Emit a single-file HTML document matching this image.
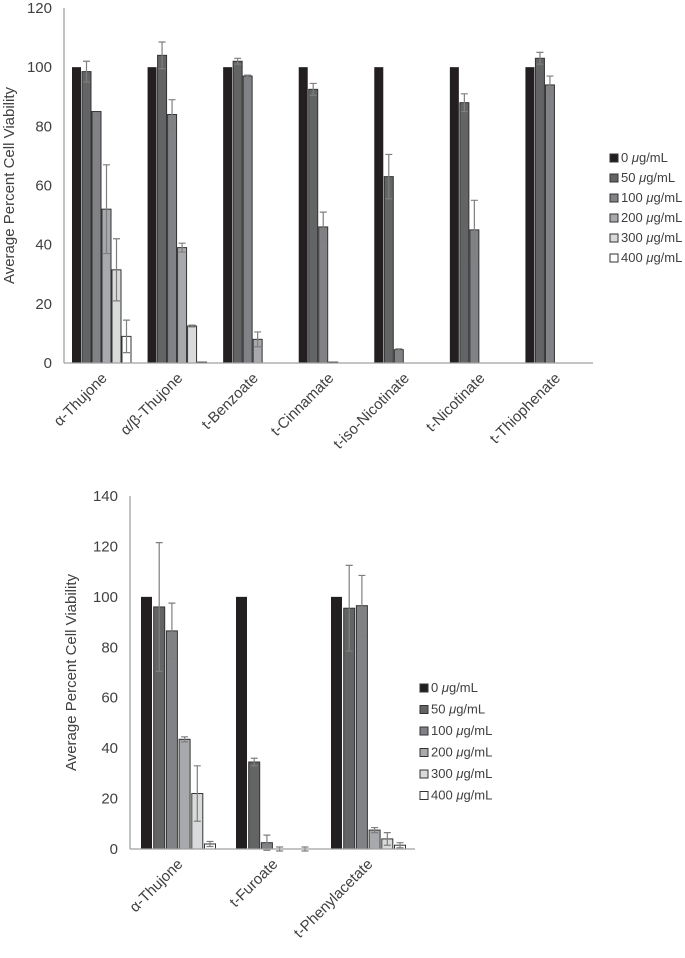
<!DOCTYPE html>
<html><head><meta charset="utf-8"><style>
body{margin:0;background:#fff;}
svg text{font-family:"Liberation Sans",sans-serif;fill:#404040;}
</style></head><body>
<svg id="svg" width="685" height="953" xmlns="http://www.w3.org/2000/svg"></svg>
<script>
const seriesLabels=["0","50","100","200","300","400"];
const colors=["#231f20","#636466","#808285","#a7a9ac","#d9dadb","#ffffff"];
const cats1=["α-Thujone","α/β-Thujone","t-Benzoate","t-Cinnamate","t-iso-Nicotinate","t-Nicotinate","t-Thiophenate"];
const vals1=[[100,98.5,85,52,31.5,9],[100,104,84,39,12.5,0.3],[100,102,97,8,0,0],[100,92.5,46,0.3,0,0],[100,63,4.5,0,0,0],[100,88,45,0,0,0],[100,103,94,0,0,0]];
const errs1=[[0,3.5,0,15,10.5,5.5],[0,4.5,5,1.5,0.3,0],[0,1,0.3,2.5,0,0],[0,2,5,0,0,0],[0,7.5,0.3,0,0,0],[0,3,10,0,0,0],[0,2,3,0,0,0]];
const ticks1=[0,20,40,60,80,100,120];
const cats2=["α-Thujone","t-Furoate","t-Phenylacetate"];
const vals2=[[100,96,86.5,43.5,22,2],[100,34.5,2.5,0,0,0],[100,95.5,96.5,7.5,4,1.5]];
const errs2=[[0,25.5,11,1,11,1],[0,1.5,3,0.8,0,0.8],[0,17,12,1,2.5,1]];
const ticks2=[0,20,40,60,80,100,120,140];
const NS="http://www.w3.org/2000/svg";
const svg=document.getElementById('svg');
function mk(tag,at,parent){const e=document.createElementNS(NS,tag);for(const k in at)e.setAttribute(k,at[k]);(parent||svg).appendChild(e);return e;}
function chart(o){
  const g=mk('g',{});
  
  
  const y=v=>o.y0-(v/o.ymax)*(o.y0-o.ytop);
  const band=(o.x1-o.x0)/o.cats.length;
  // y ticks
  o.ticks.forEach(t=>{const tx=mk('text',{x:o.x0-12,y:y(t)+5,'text-anchor':'end','font-size':o.fs},g);tx.textContent=t;
    });
  const at=mk('text',{x:0,y:0,'text-anchor':'middle','font-size':o.fs,transform:`translate(${o.titleX},${(o.y0+o.ytop)/2}) rotate(-90)`},g);
  at.textContent='Average Percent Cell Viability';
  
  o.cats.forEach((c,i)=>{
    const bx=o.x0+i*band+o.off;
    o.vals[i].forEach((v,j)=>{
      const x=bx+j*o.pitch;
      const r=mk('rect',{x:x,y:y(v),width:o.bw,height:Math.max(0,o.y0-y(v)),fill:colors[j],stroke:j===0?'none':'#333','stroke-width':1},g);
      
      
      const e=o.errs[i][j];
      if(e>0){const cx=x+o.bw/2;
        const l=mk('path',{d:`M${cx},${y(v+e)}V${y(v-e)}M${cx-3.5},${y(v+e)}H${cx+3.5}M${cx-3.5},${y(v-e)}H${cx+3.5}`,stroke:'#7f7f7f','stroke-width':1.2,fill:'none'},g);
        }
    });
    const cx=o.x0+i*band+band/2;
    const t=mk('text',{x:0,y:0,'text-anchor':'end','font-size':o.fs,transform:`translate(${cx+6},${o.y0+16}) rotate(-45)`},g);
    t.textContent=c;
    
  });
  mk('line',{x1:o.x0,y1:o.ytop,x2:o.x0,y2:o.y0,stroke:'#a0a0a0','stroke-width':1.3},g);
  mk('line',{x1:o.x0,y1:o.y0,x2:o.x1,y2:o.y0,stroke:'#a0a0a0','stroke-width':1.3},g);
  seriesLabels.forEach((s,j)=>{
    const ly=o.ly+j*o.lsp;
    const lg=mk('g',{},g);
    
    mk('rect',{x:o.lx,y:ly-8,width:8,height:8,fill:colors[j],stroke:'#333','stroke-width':1},lg);
    const t=mk('text',{x:o.lx+11,y:ly,'font-size':o.lfs},lg);
    t.innerHTML=s+' <tspan font-style="italic">μ</tspan>g/mL';
  });
}
chart({name:'top-chart',cats:cats1,vals:vals1,errs:errs1,ticks:ticks1,ymax:120,x0:64,x1:593,ytop:8,y0:363,off:8,bw:9,pitch:10,fs:15,titleX:14,lx:610,ly:162,lsp:20,lfs:13});
chart({name:'bottom-chart',cats:cats2,vals:vals2,errs:errs2,ticks:ticks2,ymax:140,x0:130,x1:415,ytop:496,y0:849,off:11,bw:11,pitch:12.7,fs:15,titleX:76,lx:420,ly:692,lsp:21.5,lfs:13});
</script>
</body></html>
